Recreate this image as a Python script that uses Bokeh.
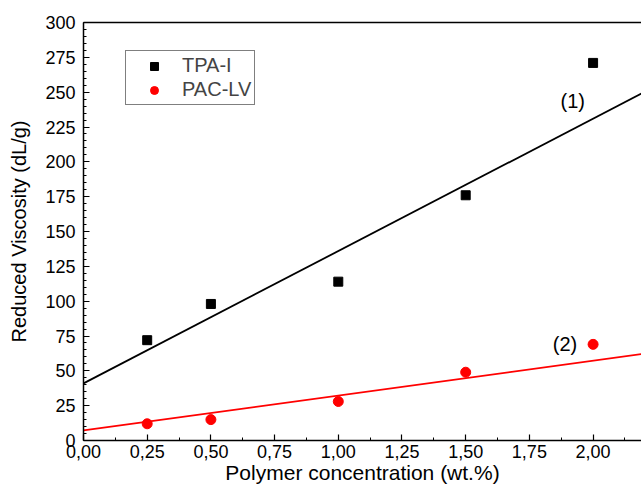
from bokeh.plotting import figure
from bokeh.models import FixedTicker, LinearAxis, Legend, LegendItem, ColumnDataSource
from bokeh.embed import file_html
from bokeh.resources import INLINE
from bokeh.core.properties import value

# ---- data ----
conc = [0.25, 0.5, 1.0, 1.5, 2.0]
tpa_i = [72, 98, 114, 176, 271]
pac_lv = [12, 15, 28, 49, 69]

# fitted straight lines
fit_x = [0.0, 2.19]
fit1_y = [41, 249]
fit2_y = [7.2, 62]

label_x = [1.92, 1.89]
label_y = [244, 69.5]
label_text = ["(1)", "(2)"]

x_ticks = [0.0, 0.25, 0.5, 0.75, 1.0, 1.25, 1.5, 1.75, 2.0]
x_tick_labels = ["0,00", "0,25", "0,50", "0,75", "1,00", "1,25", "1,50", "1,75", "2,00"]
x_minor = [0.125, 0.375, 0.625, 0.875, 1.125, 1.375, 1.625, 1.875, 2.125]
y_ticks = list(range(0, 301, 25))
y_minor = list(range(0, 301, 5))

x_title = "Polymer concentration (wt.%)"
y_title = "Reduced Viscosity (dL/g)"

FONT = "Liberation Sans"

p = figure(width=641, height=490, x_range=(0, 2.19), y_range=(0, 300),
           output_backend="svg", toolbar_location=None,
           min_border_left=83, min_border_right=0, min_border_top=22, min_border_bottom=50)
p.outline_line_color = None
p.grid.visible = False

xa = p.xaxis[0]
xa.ticker = FixedTicker(ticks=x_ticks, minor_ticks=x_minor)
xa.major_label_overrides = {t: l for t, l in zip(x_ticks, x_tick_labels)}
xa.axis_label = x_title

ya = p.yaxis[0]
ya.ticker = FixedTicker(ticks=y_ticks, minor_ticks=y_minor)
ya.axis_label = y_title

for ax in (xa, ya):
    ax.axis_line_width = 1.5
    ax.major_tick_in = 6
    ax.major_tick_out = 0
    ax.minor_tick_in = 3
    ax.minor_tick_out = 0
    ax.major_tick_line_width = 1.2
    ax.minor_tick_line_width = 1
    ax.major_label_text_font = FONT
    ax.major_label_text_font_size = "18px"
    ax.major_label_text_color = "black"
    ax.axis_label_text_font = FONT
    ax.axis_label_text_font_size = "20px"
    ax.axis_label_text_font_style = "normal"
    ax.axis_label_text_color = "black"

xa.axis_label_text_font_size = "21px"
xa.major_label_standoff = 4
xa.axis_label_standoff = 0
ya.major_label_standoff = 8
ya.axis_label_standoff = 12

top = LinearAxis(ticker=FixedTicker(ticks=[]), axis_line_width=1.5,
                 major_tick_line_color=None, minor_tick_line_color=None,
                 major_label_text_font_size="0px", major_label_standoff=0)
p.add_layout(top, "above")

l1 = p.line(fit_x, fit1_y, line_color="black", line_width=1.8)
l2 = p.line(fit_x, fit2_y, line_color="#ff0000", line_width=1.8)

s1 = p.scatter(conc, tpa_i, marker="square", size=9, fill_color="black", line_color="black")
s2 = p.scatter(conc, pac_lv, marker="circle", size=10, fill_color="#ff0000", line_color="#ff0000")

src = ColumnDataSource(dict(x=label_x, y=label_y, t=label_text))
p.text(x="x", y="y", text="t", source=src, text_font=value(FONT), text_font_size="20px",
       text_align="center", text_baseline="middle", text_color="black")

legend = Legend(items=[LegendItem(label="TPA-I", renderers=[s1]),
                       LegendItem(label="PAC-LV", renderers=[s2])],
                location=(42, 335), margin=0, padding=3, spacing=1,
                glyph_width=50, glyph_height=20, label_standoff=3,
                label_text_font=FONT, label_text_font_size="20px",
                border_line_color="black", border_line_width=1,
                background_fill_alpha=1)
p.add_layout(legend, "center")

open("out.html", "w").write(file_html(p, INLINE))
